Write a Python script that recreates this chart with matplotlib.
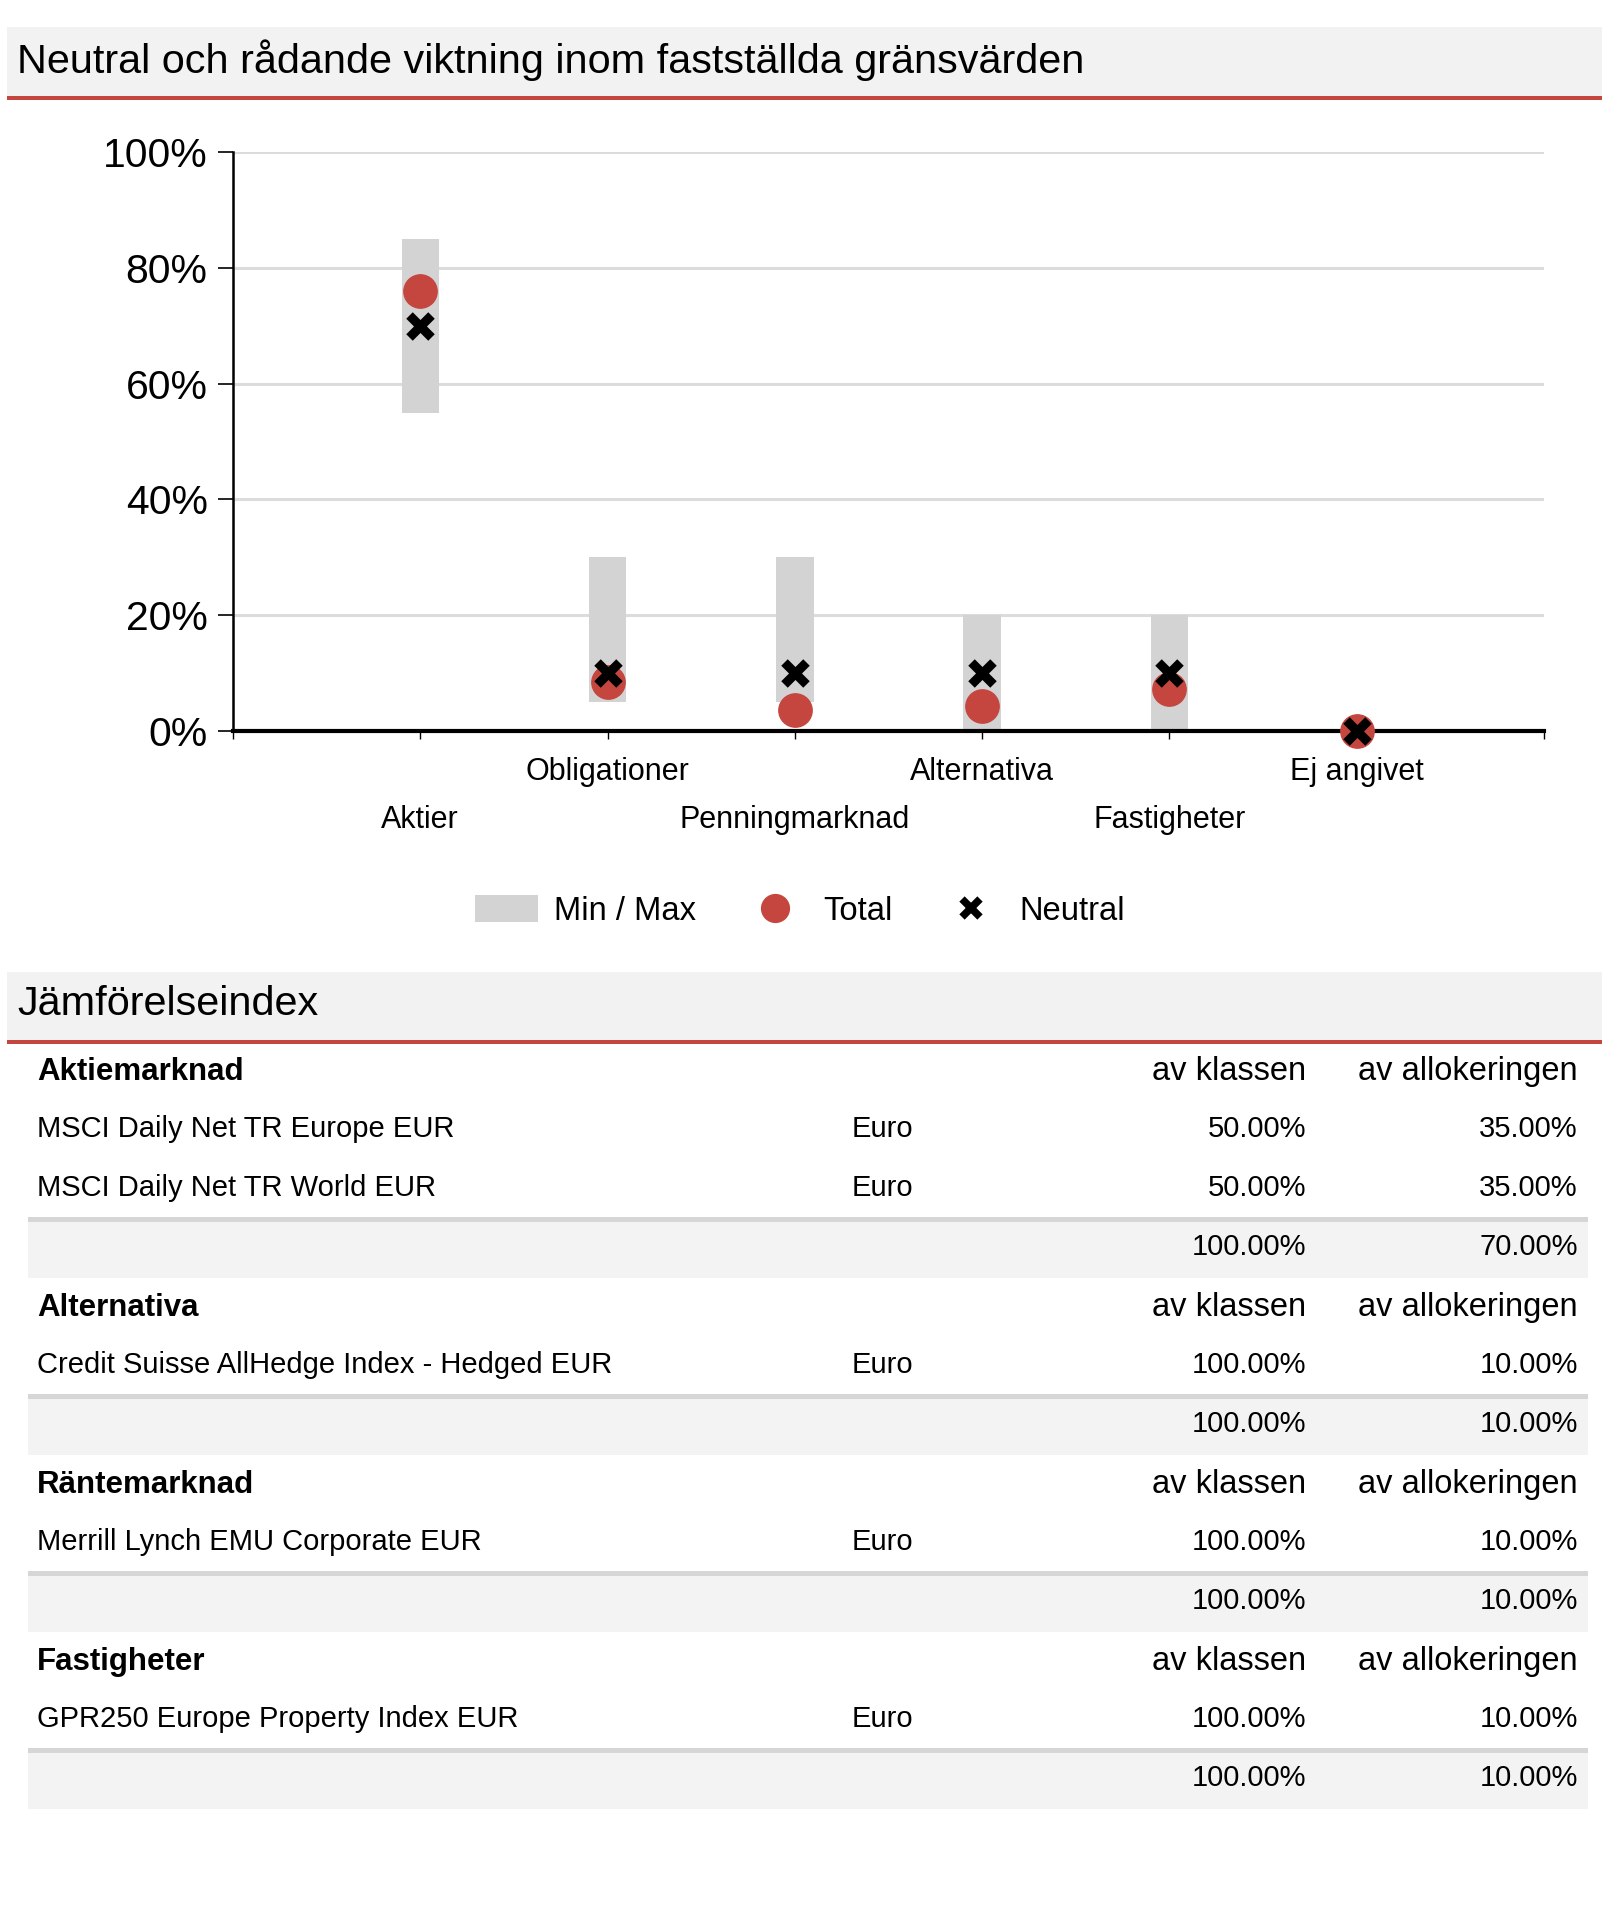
import numpy as np
import matplotlib
matplotlib.use('Agg')
import matplotlib.pyplot as plt
from matplotlib.patches import Patch, Rectangle
from matplotlib.lines import Line2D
from matplotlib.ticker import PercentFormatter

plt.rcParams['font.family'] = ['Liberation Sans', 'DejaVu Sans']

# chart data (percent)
categories = ['Aktier', 'Obligationer', 'Penningmarknad', 'Alternativa', 'Fastigheter', 'Ej angivet']
min_w = [55, 5, 5, 0, 0, 0]
max_w = [85, 30, 30, 20, 20, 0]
total_w = [76, 8.5, 3.7, 4.4, 7.3, 0]
neutral_w = [70, 10, 10, 10, 10, 0]

# benchmark table
sections = ['Aktiemarknad', 'Alternativa', 'Räntemarknad', 'Fastigheter']
index_names = [['MSCI Daily Net TR Europe EUR', 'MSCI Daily Net TR World EUR'],
               ['Credit Suisse AllHedge Index - Hedged EUR'],
               ['Merrill Lynch EMU Corporate EUR'],
               ['GPR250 Europe Property Index EUR']]
currencies = [['Euro', 'Euro'], ['Euro'], ['Euro'], ['Euro']]
class_pct = [[50.0, 50.0], [100.0], [100.0], [100.0]]
alloc_pct = [[35.0, 35.0], [10.0], [10.0], [10.0]]
class_total = [100.0, 100.0, 100.0, 100.0]
alloc_total = [70.0, 10.0, 10.0, 10.0]

RED = '#c5463f'
GRAY = '#d3d3d3'
W, H = 1602, 1905

fig = plt.figure(figsize=(W / 100, H / 100), dpi=100)

# background layer in pixel coordinates
bg = fig.add_axes([0, 0, 1, 1], zorder=0)
bg.set_xlim(0, W)
bg.set_ylim(H, 0)
bg.axis('off')


def header_band(y0, y1, baseline, text):
    bg.add_patch(Rectangle((7, y0), W - 7, y1 - y0, color='#f2f2f2', lw=0))
    bg.add_patch(Rectangle((7, y1), W - 7, 4, color=RED, lw=0))
    bg.text(17, baseline, text, fontsize=29.8, va='baseline')


header_band(27, 96, 73, 'Neutral och rådande viktning inom fastställda gränsvärden')
header_band(972, 1040, 1015, 'Jämförelseindex')

# chart
ax = fig.add_axes([233 / W, 1 - 731 / H, (1544 - 233) / W, (731 - 152) / H], zorder=1)
ax.patch.set_alpha(0)
x = np.arange(1, len(categories) + 1)
heights = [mx - mn for mn, mx in zip(min_w, max_w)]
ax.bar(x, heights, bottom=min_w, width=0.2, color=GRAY, zorder=2)
ax.plot(x, total_w, 'o', ms=24, color=RED, zorder=3, clip_on=False)
ax.plot(x, neutral_w, 'x', ms=16.5, mew=6.6, color='black', zorder=4, clip_on=False)

ax.set_xlim(0, 7)
ax.set_ylim(0, 100)
ax.set_yticks(range(0, 101, 20))
ax.yaxis.set_major_formatter(PercentFormatter(100, decimals=0))
ax.yaxis.grid(True, color='#dcdcdc', lw=2.2)
ax.set_axisbelow(True)
for s in ['top', 'right']:
    ax.spines[s].set_visible(False)
ax.spines['left'].set_linewidth(1.8)
ax.spines['bottom'].set_linewidth(3)
ax.tick_params(axis='y', length=11, width=1.2, pad=7.2, labelsize=29.4)

ax.set_xticks(x)
ax.set_xticklabels(categories, fontsize=22)
ax.set_xticks([0, 7], minor=True)
ax.tick_params(axis='x', which='both', length=5.8, width=1)
for i, t in enumerate(ax.xaxis.get_major_ticks()):
    t.set_pad(47.5 if i % 2 == 0 else 13)

handles = [Patch(facecolor=GRAY, edgecolor='none'),
           Line2D([], [], marker='o', ls='', ms=20, color=RED),
           Line2D([], [], marker='x', ls='', ms=13, mew=5.4, color='black')]
ax.legend(handles, ['Min / Max', 'Total', 'Neutral'], ncol=3, frameon=False, fontsize=23.6,
          handlelength=1.93, handleheight=0.88, handletextpad=0.5, columnspacing=1.44,
          borderpad=0, borderaxespad=0, loc='center left',
          bbox_to_anchor=(474.5 / W, 1 - 911 / H), bbox_transform=fig.transFigure)

# table
X_NAME, X_CUR, X_CLS, X_ALL = 37, 852, 1306, 1578
y = 1080
for s, sec in enumerate(sections):
    bg.text(X_NAME, y, sec, fontsize=22.5, fontweight='bold', va='baseline')
    bg.text(X_CLS, y, 'av klassen', fontsize=23.5, ha='right', va='baseline')
    bg.text(X_ALL, y, 'av allokeringen', fontsize=23.5, ha='right', va='baseline')
    for j, name in enumerate(index_names[s]):
        y += 57 if j == 0 else 59
        bg.text(X_NAME, y, name, fontsize=21, va='baseline')
        bg.text(X_CUR, y, currencies[s][j], fontsize=21, va='baseline')
        bg.text(X_CLS, y, f'{class_pct[s][j]:.2f}%', fontsize=21, ha='right', va='baseline')
        bg.text(X_ALL, y, f'{alloc_pct[s][j]:.2f}%', fontsize=21, ha='right', va='baseline')
    bg.add_patch(Rectangle((28, y + 21), 1560, 5, color='#d6d6d6', lw=0))
    bg.add_patch(Rectangle((28, y + 26), 1560, 56, color='#f3f3f3', lw=0))
    y += 59
    bg.text(X_CLS, y, f'{class_total[s]:.2f}%', fontsize=21, ha='right', va='baseline')
    bg.text(X_ALL, y, f'{alloc_total[s]:.2f}%', fontsize=21, ha='right', va='baseline')
    y += 61

fig.savefig('out.png', dpi=100)
